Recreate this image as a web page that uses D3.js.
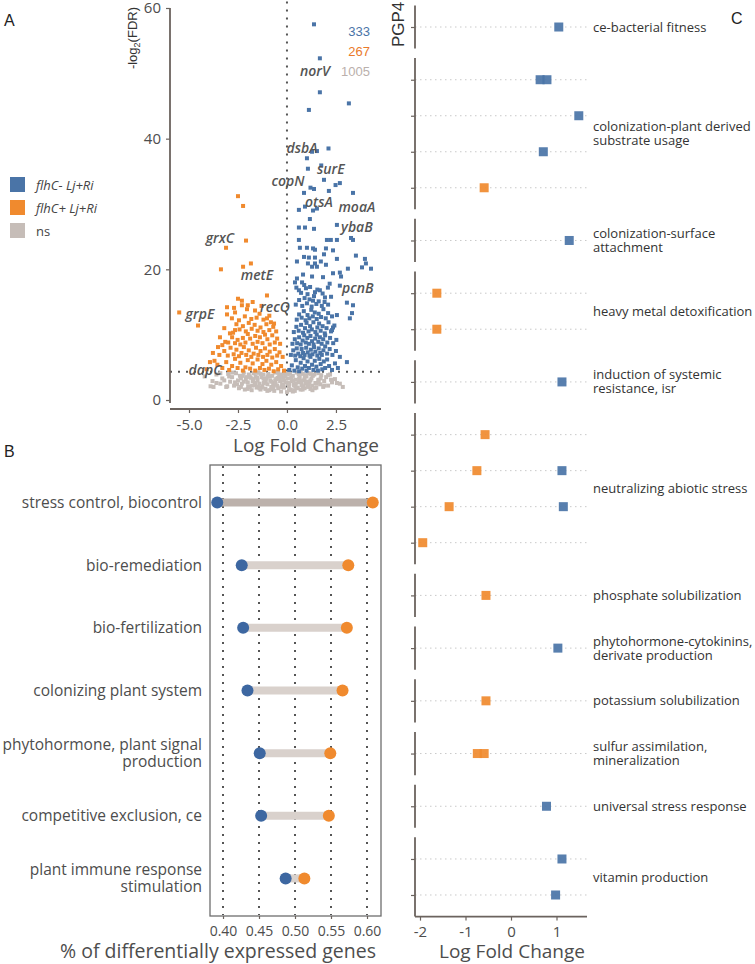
<!DOCTYPE html>
<html>
<head>
<meta charset="utf-8">
<script src="https://cdn.jsdelivr.net/npm/d3@7"></script>
<style>
  body { margin: 0; background: #fff; }
  text { font-family: "Open Sans", sans-serif; }
</style>
</head>
<body>
<div id="chart"></div>
<script>
// ---------- A: volcano plot, [logFC, -log2(FDR)] ----------
const volcUp = [ // flhC- Lj+Ri (blue)
  [1.38,57.5],[1.68,52.3],[1.68,47.1],[1.12,44.4],[3.16,45.4],[2.12,38.5],[1.02,37.0],[1.28,38.0],[1.53,38.1],[1.07,35.4],
  [1.75,35.9],[1.89,33.7],[2.48,32.9],[2.7,33.2],[1.2,32.5],[1.38,32.3],[0.87,31.7],[3.37,31.7],[2.14,32.0],
  [0.61,29.1],[0.92,29.6],[1.33,29.0],[1.53,29.3],[1.17,27.7],[0.61,26.4],[0.92,26.4],[1.38,26.2],[2.55,26.8],[0.61,24.5],
  [1.33,23.2],[1.43,23.0],[2.04,24.5],[2.24,24.5],[2.55,24.5],[3.27,24.8],[3.37,24.5],[0.66,23.3],[1.02,23.3],[1.99,23.2],
  [3.52,22.1],[0.87,21.9],[1.12,21.8],[1.43,21.8],[1.89,22.3],[0.51,21.2],[1.07,20.9],[1.43,20.9],[1.73,21.2],[2.55,21.6],
  [3.98,21.6],[4.03,20.9],[1.28,20.4],[1.53,20.4],[1.99,20.7],[2.35,19.4],[2.76,18.9],[3.83,20.3],[4.29,20.1],[0.82,19.2],
  [1.84,18.8],[0.51,18.6],[0.77,18.0],[0.41,18.0],[1.28,18.9],[2.7,19.5],[3.11,20.1],[2.35,22.9],
  [2.7,17.5],[2.09,17.2],[1.68,16.8],[1.43,16.5],[0.97,17.1],[0.61,16.8],[1.33,15.2],[1.94,15.7],[3.06,14.9],[3.37,14.5],
  [2.55,13.0],[3.21,12.5],[3.06,5.8],[2.3,10.7],[2.35,11.1],[3.32,13.3],[2.7,6.6],
  [0.12,4.6],[0.25,5.3],[0.38,4.5],[0.45,6.1],[0.55,5.0],[0.62,4.4],[0.7,5.7],[0.78,4.8],[0.85,6.4],[0.92,5.2],
  [1.0,4.5],[1.05,5.9],[1.12,4.9],[1.2,6.6],[1.28,5.4],[1.35,4.6],[1.42,6.0],[1.5,5.1],[1.58,4.5],[1.65,6.3],
  [1.72,5.5],[1.8,4.7],[1.88,5.9],[1.95,4.9],[2.05,6.2],[2.15,5.2],[2.3,4.6],[2.45,5.6],[2.6,4.9],
  [0.2,6.9],[0.32,7.6],[0.42,6.8],[0.5,7.9],[0.58,7.1],[0.68,6.7],[0.75,7.8],[0.82,7.2],[0.9,6.9],[0.98,8.0],
  [1.06,7.3],[1.15,6.8],[1.22,7.7],[1.3,7.0],[1.38,8.1],[1.45,7.4],[1.55,6.8],[1.62,7.9],[1.7,7.2],[1.78,6.9],
  [1.86,7.6],[1.95,8.2],[2.05,7.1],[2.18,7.8],[2.32,6.9],[2.5,7.5],
  [0.28,8.6],[0.4,9.3],[0.52,8.7],[0.62,9.6],[0.7,8.5],[0.8,9.1],[0.88,9.9],[0.96,8.8],[1.04,9.5],[1.12,8.6],
  [1.2,9.8],[1.28,9.0],[1.36,8.5],[1.44,9.4],[1.52,10.0],[1.6,8.9],[1.68,9.6],[1.77,8.6],[1.85,9.3],[1.95,9.9],
  [2.06,8.8],[2.2,9.5],[2.36,8.7],[2.52,9.2],
  [0.35,10.4],[0.48,11.2],[0.6,10.6],[0.72,11.5],[0.82,10.3],[0.92,11.0],[1.0,11.8],[1.1,10.5],[1.18,11.3],[1.27,10.8],
  [1.35,11.9],[1.45,10.4],[1.55,11.1],[1.64,11.7],[1.72,10.6],[1.82,11.3],[1.93,10.2],[2.02,11.0],[2.12,11.9],[2.25,10.5],[2.42,11.4],
  [0.5,12.3],[0.62,13.1],[0.75,12.6],[0.86,13.6],[0.95,12.2],[1.05,13.0],[1.14,12.5],[1.24,13.8],[1.32,12.8],[1.42,13.4],
  [1.52,12.4],[1.62,13.2],[1.74,12.7],[1.86,13.9],[1.98,12.5],[2.1,13.3],[2.3,12.8],
  [0.45,14.6],[0.62,15.3],[0.78,14.4],[0.9,15.6],[1.02,14.8],[1.15,15.4],[1.26,14.3],[1.38,15.9],[1.5,14.7],[1.62,15.1],
  [1.78,14.4],[1.92,15.0],[2.1,14.6],[2.25,15.8],
  [0.48,17.2],[0.72,16.4],[0.88,17.6],[1.05,16.2],[1.18,17.3],[1.55,16.9],[1.82,16.3],[2.18,17.8]
];
const volcDown = [ // flhC+ Lj+Ri (orange)
  [-2.5,31.2],[-2.24,29.7],[-2.09,24.4],[-3.11,23.3],[-3.37,20.0],[-2.24,20.4],[-1.84,20.9],[-1.02,16.0],[-5.5,13.4],[-4.54,11.4],
  [-3.06,14.2],[-3.06,13.1],[-2.81,12.5],[-2.5,15.5],[-2.3,15.2],[-2.0,14.5],[-1.63,13.7],[-3.42,9.6],[-3.52,8.1],[-3.78,7.2],
  [-3.93,5.8],[-4.1,4.7],[-2.91,10.2],[-2.65,10.7],[-3.0,8.8],[-0.66,11.7],[-0.82,11.9],[-1.02,12.5],[-2.04,13.9],[-2.3,14.5],
  [-0.15,4.5],[-0.3,5.2],[-0.45,4.7],[-0.55,5.8],[-0.68,4.4],[-0.8,5.4],[-0.92,4.8],[-1.05,6.0],[-1.15,4.6],[-1.25,5.5],
  [-1.38,4.9],[-1.5,6.2],[-1.62,4.5],[-1.75,5.6],[-1.88,4.8],[-2.0,6.1],[-2.12,5.0],[-2.25,4.5],[-2.38,5.7],[-2.52,4.9],
  [-2.65,6.3],[-2.8,5.2],[-2.95,4.6],[-3.1,5.8],[-3.3,4.9],[-3.55,5.4],[-3.7,6.0],
  [-0.22,6.6],[-0.38,7.3],[-0.5,6.8],[-0.62,7.8],[-0.75,6.5],[-0.88,7.4],[-1.0,6.9],[-1.12,7.9],[-1.22,6.6],[-1.35,7.5],
  [-1.46,6.9],[-1.58,8.0],[-1.7,7.1],[-1.82,6.6],[-1.95,7.6],[-2.08,6.9],[-2.2,8.1],[-2.32,7.2],[-2.45,6.7],[-2.58,7.7],
  [-2.72,7.0],[-2.88,8.0],[-3.02,6.8],[-3.2,7.5],[-3.45,6.9],
  [-0.35,8.6],[-0.5,9.4],[-0.62,8.8],[-0.75,9.9],[-0.88,8.5],[-1.0,9.3],[-1.12,10.0],[-1.25,8.7],[-1.38,9.6],[-1.5,8.9],
  [-1.62,9.8],[-1.75,8.6],[-1.88,9.4],[-2.0,10.1],[-2.12,8.8],[-2.25,9.5],[-2.38,8.5],[-2.52,9.2],[-2.65,8.7],[-2.8,9.6],
  [-3.15,8.9],[-3.3,8.4],
  [-0.55,10.5],[-0.7,11.2],[-0.9,10.7],[-1.05,11.6],[-1.2,10.4],[-1.35,11.1],[-1.5,10.6],[-1.65,11.5],[-1.8,10.9],[-1.95,11.8],
  [-2.1,10.5],[-2.25,11.3],[-2.42,10.8],[-2.58,11.6],[-2.75,10.3],[-3.2,11.0],
  [-0.9,12.9],[-1.2,12.3],[-1.4,13.2],[-1.55,12.6],[-1.82,12.4],[-2.15,12.8],[-2.45,12.2],[-2.65,13.4],[-1.3,14.4],[-1.75,15.0],[-2.7,14.1]
];
const volcNs = [ // ns (grey)
  [-4.2,3.6],[-3.9,2.1],[-3.8,2.9],[-3.6,3.9],[-3.4,2.5],[-3.3,3.3],[-3.1,2.0],[-3.0,4.0],[-2.9,2.8],[-2.8,3.5],
  [-2.7,2.2],[-2.6,4.1],[-2.5,3.0],[-2.45,1.8],[-2.4,3.7],[-2.3,2.5],[-2.2,4.2],[-2.15,1.6],[-2.1,3.2],[-2.0,2.7],
  [-1.95,3.9],[-1.9,2.0],[-1.85,3.4],[-1.8,1.5],[-1.75,2.9],[-1.7,4.1],[-1.65,2.3],[-1.6,3.6],[-1.55,1.9],[-1.5,3.0],
  [-1.45,4.2],[-1.4,2.5],[-1.35,1.6],[-1.3,3.5],[-1.25,2.1],[-1.2,3.9],[-1.15,2.8],[-1.1,1.7],[-1.05,3.3],[-1.0,2.4],
  [-0.95,4.0],[-0.9,1.5],[-0.85,3.0],[-0.8,2.0],[-0.75,3.7],[-0.7,2.6],[-0.65,1.4],[-0.6,4.2],[-0.55,3.2],[-0.5,2.2],
  [-0.45,1.8],[-0.4,3.8],[-0.35,2.9],[-0.3,1.3],[-0.25,2.4],[-0.2,3.5],[-0.15,1.9],[-0.1,4.1],[-0.05,2.7],[0.0,1.2],
  [0.05,3.3],[0.1,2.1],[0.15,4.0],[0.2,1.6],[0.25,2.9],[0.3,3.7],[0.35,2.3],[0.4,1.4],[0.45,3.1],[0.5,4.2],
  [0.55,1.9],[0.6,2.7],[0.65,3.5],[0.7,1.6],[0.75,2.3],[0.8,4.0],[0.85,3.0],[0.9,1.8],[0.95,2.5],[1.0,3.6],
  [1.05,2.0],[1.1,4.1],[1.15,2.8],[1.2,1.7],[1.25,3.3],[1.3,2.2],[1.4,3.9],[1.45,2.6],[1.5,1.9],[1.6,3.1],
  [1.7,2.4],[1.75,3.8],[1.85,2.0],[1.9,2.9],[2.0,3.5],[2.1,2.2],[2.2,3.9],[2.3,2.7],[2.45,3.2],[2.55,2.6],
  [2.7,2.5],[2.85,2.0],[2.1,3.8],[-3.75,2.0],[-3.05,2.1],[-2.0,1.7],[-1.0,1.4],[0.3,1.3],[1.3,1.5],[-2.35,3.3],
  [-1.6,2.6],[-0.6,3.0],[0.6,3.9],[-1.2,3.3],[-0.3,3.9],[0.9,3.3],[-2.2,2.8],[-1.35,4.0],[0.05,2.6],[-0.8,2.8],
  [-1.9,3.6],[1.2,3.0],[-0.15,3.0],[0.45,2.5],[-1.55,4.2],[-0.45,4.2],[0.7,4.2],[1.6,4.1],[-2.8,4.2],[-3.4,4.1],
  [-2.35,2.0],[-2.05,3.5],[-1.78,2.2],[-1.52,3.4],[-1.28,1.9],[-1.08,2.9],[-0.88,3.6],[-0.68,2.3],[-0.48,3.4],[-0.28,2.0],
  [-0.08,3.6],[0.12,2.5],[0.32,3.0],[0.52,1.8],[0.72,2.9],[0.92,3.8],[1.12,2.3],[1.32,3.7],[1.52,2.5],[1.72,3.3],
  [-2.55,2.4],[-2.25,3.7],[-1.98,2.1],[-1.72,3.2],[-1.48,2.0],[-1.18,2.6],[-0.98,3.6],[-0.78,1.7],[-0.58,2.5],[-0.38,3.3],
  [-0.18,2.2],[0.02,4.0],[0.22,3.4],[0.42,2.0],[0.62,3.2],[0.82,2.1],[1.02,2.8],[1.22,4.0],[1.42,1.8],[1.62,2.8],
  [-3.2,3.0],[-2.95,3.6],[-2.65,2.7],[-1.4,1.8],[-0.7,1.9],[0.1,1.5],[0.8,1.6],[1.9,2.2],[2.25,3.1],[-3.6,2.6]
];
const geneLabels = ["norV","dsbA","surE","copN","otsA","moaA","ybaB","grxC","metE","pcnB","recQ","grpE","dapC"];
const geneLabelX = [1.43,0.77,2.24,0.05,1.63,3.57,3.57,-3.42,-1.53,3.62,-0.61,-4.44,-4.18];
const geneLabelY = [50.3,38.6,35.4,33.5,30.3,29.6,26.4,24.8,19.1,17.1,14.2,13.1,4.6];
const groupNames = ["flhC- Lj+Ri","flhC+ Lj+Ri","ns"];
const groupCounts = [333, 267, 1005];
const volcXTicks = [-5, -2.5, 0, 2.5];
const volcYTicks = [0, 20, 40, 60];
const fdrCut = 4.32;

// ---------- B: dumbbell, share of DE genes ----------
const pgpCategories = [
  "stress control, biocontrol","bio-remediation","bio-fertilization","colonizing plant system",
  "phytohormone, plant signal production","competitive exclusion, ce","plant immune response stimulation"
];
const pctUp   = [0.392, 0.426, 0.428, 0.434, 0.451, 0.453, 0.487];
const pctDown = [0.608, 0.574, 0.572, 0.566, 0.549, 0.547, 0.513];
const pctTicks = [0.40, 0.45, 0.50, 0.55, 0.60];

// ---------- C: PGP4 trait genes, log fold change ----------
const traitNames = [
  "ce-bacterial fitness","colonization-plant derived substrate usage","colonization-surface attachment",
  "heavy metal detoxification","induction of systemic resistance, isr","neutralizing abiotic stress",
  "phosphate solubilization","phytohormone-cytokinins, derivate production","potassium solubilization",
  "sulfur assimilation, mineralization","universal stress response","vitamin production"
];
const traitLines = [
  ["ce-bacterial fitness"],["colonization-plant derived","substrate usage"],["colonization-surface","attachment"],
  ["heavy metal detoxification"],["induction of systemic","resistance, isr"],["neutralizing abiotic stress"],
  ["phosphate solubilization"],["phytohormone-cytokinins,","derivate production"],["potassium solubilization"],
  ["sulfur assimilation,","mineralization"],["universal stress response"],["vitamin production"]
];
const traitRows = [1, 4, 1, 2, 1, 4, 1, 1, 1, 1, 1, 2];
// [trait index, row within trait, logFC]
const traitLfc = [
  [0,0,1.05],
  [1,0,0.64],[1,0,0.79],[1,1,1.49],[1,2,0.71],[1,3,-0.59],
  [2,0,1.28],
  [3,0,-1.63],[3,1,-1.63],
  [4,0,1.12],
  [5,0,-0.57],[5,1,-0.75],[5,1,1.12],[5,2,-1.36],[5,2,1.15],[5,3,-1.94],
  [6,0,-0.55],
  [7,0,1.03],
  [8,0,-0.55],
  [9,0,-0.74],[9,0,-0.59],
  [10,0,0.78],
  [11,0,1.12],[11,1,0.98]
];
const lfcTicks = [-2, -1, 0, 1];

// ---------- drawing ----------
const blue = "#4a74a7", orange = "#f08a2e", grey = "#c6bdb8";
const axisCol = "#6b635e", txt = "#4d4d4d";

const svg = d3.select("#chart").append("svg")
  .attr("width", 755).attr("height", 964);

function panelLetter(s, x, y) {
  svg.append("text").attr("x", x).attr("y", y).text(s)
    .style("font-family", "Liberation Sans, Arial, sans-serif")
    .style("font-size", "16px").attr("fill", "#222");
}
function styleAxis(g, size) {
  g.select(".domain").remove();
  g.selectAll(".tick line").attr("stroke", axisCol).attr("stroke-width", 1.2);
  g.selectAll(".tick text").attr("fill", txt).style("font-size", size + "px");
}

// ===== Panel A =====
panelLetter("A", 4, 26);
const xA = d3.scaleLinear().domain([-5.97, 4.8]).range([170, 381]);
const yA = d3.scaleLinear().domain([0, 60]).range([400, 8]);
const gA = svg.append("g");

gA.append("line").attr("x1", xA(0)).attr("x2", xA(0)).attr("y1", yA(61)).attr("y2", 408)
  .attr("stroke", "#555").attr("stroke-width", 2).attr("stroke-dasharray", "2,6");
gA.append("line").attr("x1", 170).attr("x2", 381).attr("y1", yA(fdrCut)).attr("y2", yA(fdrCut))
  .attr("stroke", "#555").attr("stroke-width", 2).attr("stroke-dasharray", "2,6");

const sq = 4;
[[volcNs, grey], [volcDown, orange], [volcUp, blue]].forEach(([pts, col]) => {
  gA.append("g").selectAll("rect").data(pts).enter().append("rect")
    .attr("x", d => xA(d[0]) - sq / 2).attr("y", d => yA(d[1]) - sq / 2)
    .attr("width", sq).attr("height", sq).attr("fill", col);
});

gA.append("g").selectAll("text").data(geneLabels).enter().append("text")
  .attr("x", (d, i) => xA(geneLabelX[i])).attr("y", (d, i) => yA(geneLabelY[i]))
  .attr("dy", "0.35em").attr("text-anchor", "middle")
  .style("font-size", "14px").style("font-style", "italic").style("font-weight", 600)
  .attr("fill", "#555").text(d => d);

const countCols = [blue, "#ea7a2a", "#bab0ac"];
gA.append("g").selectAll("text").data(groupCounts).enter().append("text")
  .attr("x", 370).attr("y", (d, i) => 36 + i * 20).attr("text-anchor", "end")
  .style("font-family", "Liberation Sans, Arial, sans-serif").style("font-size", "13px")
  .attr("fill", (d, i) => countCols[i]).text(d => d);

const yAxA = gA.append("g").attr("transform", "translate(170,0)")
  .call(d3.axisLeft(yA).tickValues(volcYTicks).tickSize(4).tickPadding(5));
styleAxis(yAxA, 15);
gA.append("line").attr("x1", 170).attr("x2", 170).attr("y1", yA(60)).attr("y2", 403)
  .attr("stroke", axisCol).attr("stroke-width", 1.8);

const xAxA = gA.append("g").attr("transform", "translate(0,409)")
  .call(d3.axisBottom(xA).tickValues(volcXTicks).tickSize(4).tickPadding(6).tickFormat(d => d.toFixed(1)));
styleAxis(xAxA, 15);
gA.append("line").attr("x1", 170).attr("x2", 381).attr("y1", 409).attr("y2", 409)
  .attr("stroke", axisCol).attr("stroke-width", 1.8);

gA.append("text").attr("x", 306).attr("y", 452).attr("text-anchor", "middle")
  .style("font-size", "19px").attr("fill", txt).text("Log Fold Change");

const yTitle = gA.append("text").attr("transform", "translate(137,7) rotate(-90)")
  .attr("text-anchor", "end").style("font-family", "Liberation Sans, Arial, sans-serif")
  .style("font-size", "13px").attr("fill", "#333");
yTitle.append("tspan").text("-log");
yTitle.append("tspan").attr("dy", 3).style("font-size", "9px").text("2");
yTitle.append("tspan").attr("dy", -3).text("(FDR)");

// legend
const legCols = [blue, orange, grey];
const leg = svg.append("g").selectAll("g").data(groupNames).enter().append("g")
  .attr("transform", (d, i) => `translate(10,${177 + i * 23})`);
leg.append("rect").attr("width", 15).attr("height", 15).attr("fill", (d, i) => legCols[i]);
leg.append("text").attr("x", 26).attr("y", 8).attr("dy", "0.35em")
  .style("font-size", "13px").style("font-style", (d, i) => i < 2 ? "italic" : "normal")
  .attr("fill", "#444").text(d => d);

// ===== Panel B =====
panelLetter("B", 4, 457);
const xB = d3.scaleLinear().domain([0.40, 0.60]).range([223, 367]);
const yB = d3.scalePoint().domain(pgpCategories).range([465, 916]).padding(0.6);
const gB = svg.append("g");

gB.selectAll(".vgrid").data(pctTicks).enter().append("line")
  .attr("x1", d => xB(d)).attr("x2", d => xB(d)).attr("y1", 466).attr("y2", 915)
  .attr("stroke", "#555").attr("stroke-width", 2).attr("stroke-dasharray", "2,6");

gB.selectAll(".seg").data(pgpCategories).enter().append("line")
  .attr("x1", (d, i) => xB(pctUp[i])).attr("x2", (d, i) => xB(pctDown[i]))
  .attr("y1", d => yB(d)).attr("y2", d => yB(d))
  .attr("stroke", (d, i) => i === 0 ? "#bcb1ab" : "#d9d1cc").attr("stroke-width", 8);
gB.selectAll(".up").data(pgpCategories).enter().append("circle")
  .attr("cx", (d, i) => xB(pctUp[i])).attr("cy", d => yB(d)).attr("r", 6).attr("fill", "#3d67a1");
gB.selectAll(".down").data(pgpCategories).enter().append("circle")
  .attr("cx", (d, i) => xB(pctDown[i])).attr("cy", d => yB(d)).attr("r", 6).attr("fill", orange);

gB.append("rect").attr("x", 210).attr("y", 465).attr("width", 171).attr("height", 451)
  .attr("fill", "none").attr("stroke", "#6e6e6e").attr("stroke-width", 1.3);

const catWrap = {
  "phytohormone, plant signal production": ["phytohormone, plant signal", "production"],
  "plant immune response stimulation": ["plant immune response", "stimulation"]
};
pgpCategories.forEach(c => {
  const lines = catWrap[c] || [c];
  const t = gB.append("text").attr("x", 202).attr("text-anchor", "end")
    .style("font-size", "15.5px").attr("fill", txt);
  lines.forEach((l, j) => {
    t.append("tspan").attr("x", 202)
      .attr("y", yB(c) + (j - (lines.length - 1) / 2) * 17).attr("dy", "0.35em").text(l);
  });
});

const xAxB = gB.append("g").attr("transform", "translate(0,916)")
  .call(d3.axisBottom(xB).tickValues(pctTicks).tickSize(3).tickPadding(7).tickFormat(d3.format(".2f")));
styleAxis(xAxB, 14);
gB.append("text").attr("x", 218).attr("y", 958).attr("text-anchor", "middle")
  .style("font-size", "19.5px").attr("fill", txt).text("% of differentially expressed genes");

// ===== Panel C =====
panelLetter("C", 731, 24);
const xC = d3.scaleLinear().domain([-2, 1]).range([420, 556.5]);
const cLeft = 415, cRight = 587, cTop = 5.4, cBottom = 916.6, cGap = 9.5;
const units = d3.sum(traitRows, n => n - 1 + 1.2);
const unit = (cBottom - cTop - cGap * (traitRows.length - 1)) / units;
const gC = svg.append("g");

let yCursor = cTop;
const facetY = traitRows.map(n => {
  const h = (n - 1 + 1.2) * unit;
  const s = d3.scalePoint().domain(d3.range(n)).range([yCursor, yCursor + h]).padding(0.6);
  yCursor += h + cGap;
  return s;
});

traitNames.forEach((name, f) => {
  const s = facetY[f];
  const [y0, y1] = s.range();
  const rows = s.domain();
  gC.selectAll(null).data(rows).enter().append("line")
    .attr("x1", cLeft).attr("x2", cRight).attr("y1", r => s(r)).attr("y2", r => s(r))
    .attr("stroke", "#c9c9c9").attr("stroke-width", 1).attr("stroke-dasharray", "1.5,3.5");
  const ax = gC.append("g").attr("transform", `translate(${cLeft},0)`)
    .call(d3.axisLeft(s).tickSize(4).tickFormat(""));
  styleAxis(ax, 10);
  gC.append("line").attr("x1", cLeft).attr("x2", cLeft).attr("y1", y0).attr("y2", y1)
    .attr("stroke", axisCol).attr("stroke-width", 1.8);

  const lines = traitLines[f];
  const ym = (y0 + y1) / 2;
  const t = gC.append("text").style("font-size", "13px").attr("fill", "#333");
  lines.forEach((l, j) => {
    t.append("tspan").attr("x", 593)
      .attr("y", ym + (j - (lines.length - 1) / 2) * 14).attr("dy", "0.35em").text(l);
  });
});

const sqC = 9;
gC.selectAll(".pt").data(traitLfc).enter().append("rect")
  .attr("x", d => xC(d[2]) - sqC / 2).attr("y", d => facetY[d[0]](d[1]) - sqC / 2)
  .attr("width", sqC).attr("height", sqC)
  .attr("fill", d => d[2] > 0 ? blue : orange).attr("fill-opacity", 0.92);

svg.append("text").attr("transform", `translate(404,${cTop + 19}) rotate(-90)`)
  .attr("text-anchor", "middle").style("font-family", "Liberation Sans, Arial, sans-serif")
  .style("font-size", "17px").attr("fill", "#333").text("PGP4");

const xAxC = gC.append("g").attr("transform", `translate(0,${cBottom})`)
  .call(d3.axisBottom(xC).tickValues(lfcTicks).tickSize(4).tickPadding(6).tickFormat(d => d));
styleAxis(xAxC, 15);
gC.append("line").attr("x1", cLeft).attr("x2", cRight).attr("y1", cBottom).attr("y2", cBottom)
  .attr("stroke", axisCol).attr("stroke-width", 1.8);
gC.append("text").attr("x", 512).attr("y", 958).attr("text-anchor", "middle")
  .style("font-size", "19px").attr("fill", txt).text("Log Fold Change");
</script>
</body>
</html>
